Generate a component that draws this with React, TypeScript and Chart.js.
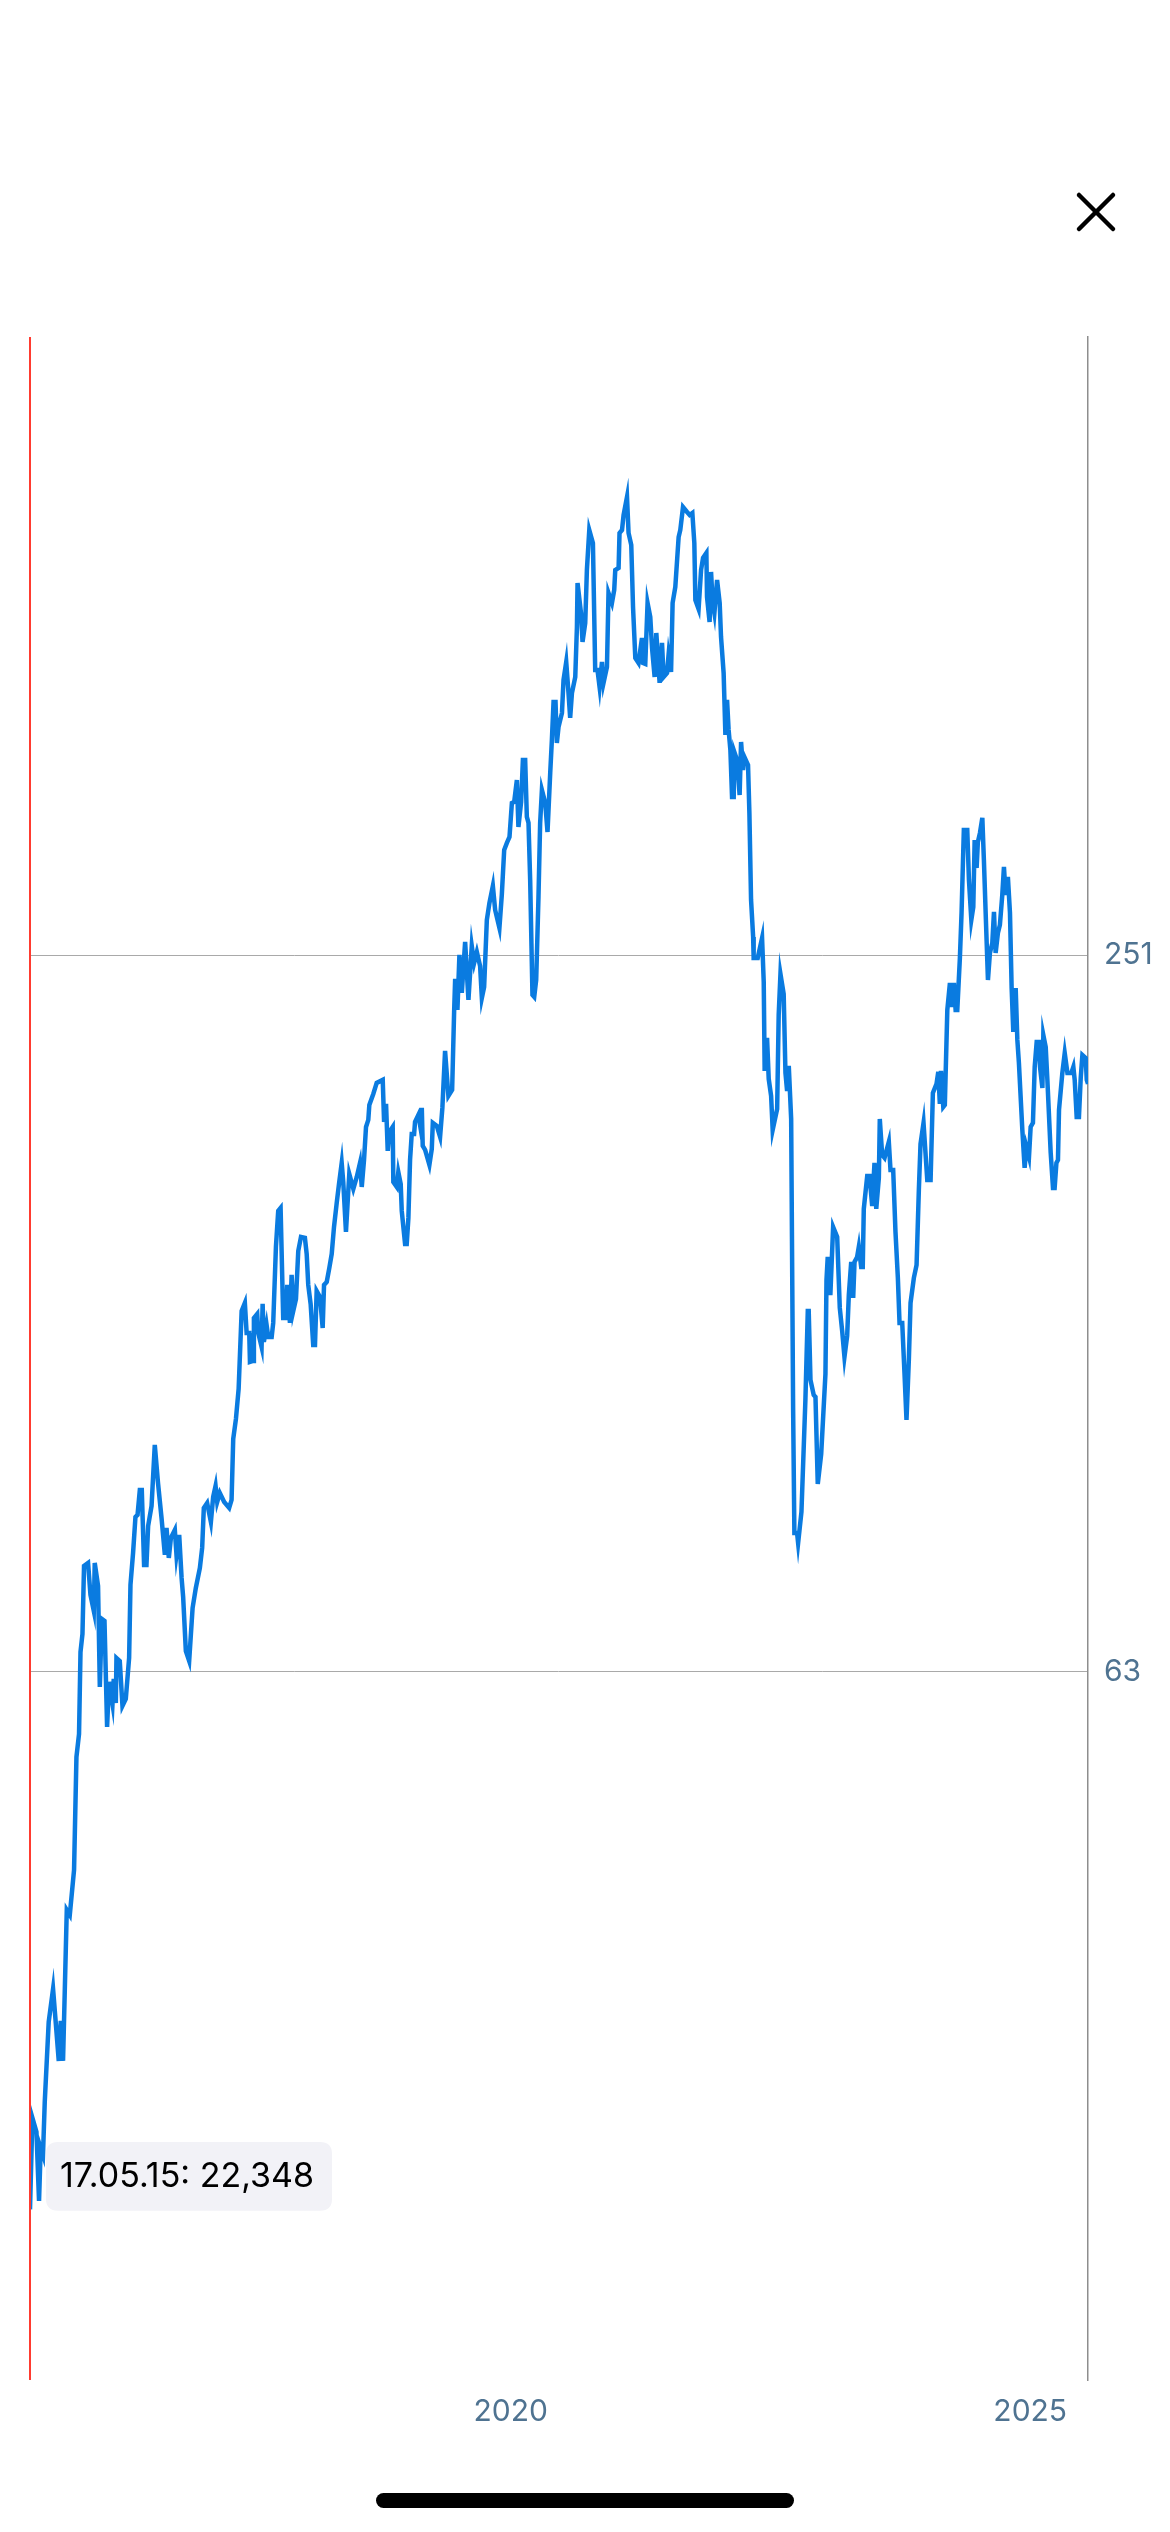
import React, { useEffect, useRef } from 'react';
import { Chart, registerables, Tooltip } from 'chart.js';

Chart.register(...registerables);

// Time axis (decimal years) and price values
const YEARS = [
  2015.373, 2015.396, 2015.435, 2015.460, 2015.476, 2015.498, 2015.515, 2015.553, 2015.595, 2015.650,
  2015.669, 2015.691, 2015.727, 2015.756, 2015.797, 2015.820, 2015.845, 2015.859, 2015.878, 2015.893,
  2015.932, 2015.955, 2015.987, 2015.996, 2016.028, 2016.045, 2016.064, 2016.090, 2016.115, 2016.134,
  2016.167, 2016.179, 2016.199, 2016.205, 2016.237, 2016.263, 2016.295, 2016.327, 2016.340, 2016.365,
  2016.388, 2016.408, 2016.430, 2016.449, 2016.471, 2016.494, 2016.510, 2016.543, 2016.574, 2016.606,
  2016.639, 2016.671, 2016.687, 2016.709, 2016.729, 2016.767, 2016.783, 2016.809, 2016.832, 2016.847,
  2016.873, 2016.905, 2016.938, 2016.969, 2017.008, 2017.030, 2017.046, 2017.078, 2017.114, 2017.136,
  2017.159, 2017.175, 2017.200, 2017.242, 2017.290, 2017.313, 2017.329, 2017.355, 2017.381, 2017.410,
  2017.441, 2017.458, 2017.483, 2017.490, 2017.521, 2017.528, 2017.560, 2017.570, 2017.602, 2017.612,
  2017.624, 2017.650, 2017.666, 2017.699, 2017.714, 2017.740, 2017.762, 2017.785, 2017.810, 2017.836,
  2017.849, 2017.875, 2017.891, 2017.907, 2017.933, 2017.955, 2017.981, 2018.019, 2018.036, 2018.051,
  2018.074, 2018.099, 2018.116, 2018.132, 2018.164, 2018.190, 2018.203, 2018.229, 2018.254, 2018.277,
  2018.299, 2018.325, 2018.347, 2018.373, 2018.388, 2018.414, 2018.446, 2018.485, 2018.518, 2018.549,
  2018.566, 2018.588, 2018.607, 2018.629, 2018.639, 2018.677, 2018.710, 2018.768, 2018.781, 2018.800,
  2018.816, 2018.832, 2018.864, 2018.870, 2018.903, 2018.918, 2018.941, 2018.951, 2018.983, 2018.999,
  2019.015, 2019.031, 2019.047, 2019.070, 2019.079, 2019.111, 2019.127, 2019.144, 2019.153, 2019.176,
  2019.217, 2019.240, 2019.250, 2019.288, 2019.320, 2019.342, 2019.368, 2019.400, 2019.436, 2019.455,
  2019.465, 2019.487, 2019.506, 2019.529, 2019.561, 2019.593, 2019.625, 2019.648, 2019.674, 2019.705,
  2019.722, 2019.744, 2019.770, 2019.795, 2019.828, 2019.850, 2019.891, 2019.914, 2019.937, 2019.963,
  2019.988, 2020.011, 2020.033, 2020.059, 2020.074, 2020.100, 2020.117, 2020.139, 2020.155, 2020.171,
  2020.187, 2020.209, 2020.226, 2020.245, 2020.267, 2020.283, 2020.300, 2020.332, 2020.354, 2020.380,
  2020.396, 2020.412, 2020.431, 2020.444, 2020.460, 2020.493, 2020.508, 2020.534, 2020.556, 2020.572,
  2020.589, 2020.621, 2020.637, 2020.643, 2020.676, 2020.691, 2020.717, 2020.733, 2020.756, 2020.791,
  2020.813, 2020.835, 2020.855, 2020.878, 2020.893, 2020.926, 2020.941, 2020.974, 2020.996, 2021.006,
  2021.038, 2021.047, 2021.071, 2021.086, 2021.119, 2021.134, 2021.160, 2021.177, 2021.199, 2021.230,
  2021.263, 2021.273, 2021.295, 2021.317, 2021.343, 2021.360, 2021.385, 2021.401, 2021.433, 2021.456,
  2021.471, 2021.504, 2021.519, 2021.543, 2021.558, 2021.584, 2021.616, 2021.632, 2021.658, 2021.697,
  2021.722, 2021.748, 2021.767, 2021.777, 2021.808, 2021.832, 2021.851, 2021.883, 2021.889, 2021.914,
  2021.928, 2021.943, 2021.960, 2021.986, 2022.011, 2022.024, 2022.049, 2022.066, 2022.082, 2022.097,
  2022.114, 2022.130, 2022.146, 2022.152, 2022.178, 2022.203, 2022.217, 2022.236, 2022.249, 2022.284,
  2022.297, 2022.313, 2022.333, 2022.338, 2022.377, 2022.419, 2022.435, 2022.444, 2022.467, 2022.483,
  2022.506, 2022.521, 2022.564, 2022.579, 2022.596, 2022.627, 2022.644, 2022.660, 2022.676, 2022.699,
  2022.718, 2022.730, 2022.756, 2022.766, 2022.798, 2022.836, 2022.859, 2022.868, 2022.885, 2022.916,
  2022.933, 2022.955, 2022.988, 2023.029, 2023.039, 2023.051, 2023.061, 2023.077, 2023.103, 2023.142,
  2023.167, 2023.190, 2023.212, 2023.238, 2023.254, 2023.277, 2023.296, 2023.309, 2023.334, 2023.350,
  2023.373, 2023.388, 2023.398, 2023.431, 2023.453, 2023.479, 2023.501, 2023.518, 2023.543, 2023.552,
  2023.575, 2023.598, 2023.639, 2023.655, 2023.681, 2023.703, 2023.726, 2023.742, 2023.768, 2023.790,
  2023.809, 2023.832, 2023.848, 2023.880, 2023.906, 2023.928, 2023.944, 2023.973, 2024.009, 2024.041,
  2024.063, 2024.098, 2024.115, 2024.130, 2024.141, 2024.163, 2024.178, 2024.202, 2024.227, 2024.240,
  2024.265, 2024.282, 2024.298, 2024.323, 2024.339, 2024.361, 2024.394, 2024.410, 2024.433, 2024.452,
  2024.465, 2024.484, 2024.496, 2024.516, 2024.539, 2024.554, 2024.571, 2024.593, 2024.612, 2024.635,
  2024.651, 2024.667, 2024.689, 2024.708, 2024.731, 2024.747, 2024.763, 2024.785, 2024.805, 2024.821,
  2024.837, 2024.860, 2024.876, 2024.891, 2024.924, 2024.946, 2024.963, 2024.988, 2025.004, 2025.026,
  2025.043, 2025.062, 2025.084, 2025.094, 2025.117, 2025.126, 2025.149, 2025.165, 2025.197, 2025.219,
  2025.235, 2025.252, 2025.267, 2025.277, 2025.309, 2025.332, 2025.358, 2025.396, 2025.415, 2025.428,
  2025.447, 2025.469, 2025.486, 2025.502, 2025.534, 2025.544, 2025.556,
];

const VALUES = [
  22.348, 26.66, 25.95, 22.71, 25.16, 24.82, 27.49, 32.08, 34.19, 29.75,
  32.14, 29.75, 39.81, 39.43, 43.0, 53.48, 55.9, 65.48, 67.79, 77.29,
  77.74, 73.09, 70.86, 77.74, 74.36, 61.2, 69.78, 69.51, 56.66, 61.8,
  59.23, 62.15, 59.34, 64.72, 64.35, 59.0, 59.8, 64.72, 74.51, 79.25,
  84.95, 85.28, 89.49, 89.49, 77.44, 77.44, 83.49, 86.77, 97.6, 90.53,
  84.79, 78.95, 83.17, 78.49, 81.58, 82.84, 78.95, 82.05, 75.52, 72.8,
  65.6, 64.35, 71.28, 74.08, 76.99, 80.02, 86.44, 87.27, 84.13, 88.29,
  90.18, 87.44, 88.97, 87.44, 86.44, 87.78, 98.74, 102.62, 108.73, 126.39,
  128.35, 121.14, 121.14, 114.54, 114.77, 124.69, 125.66, 121.14, 117.91, 128.11,
  119.05, 123.02, 120.21, 120.21, 123.5, 142.99, 153.28, 154.17, 124.69, 124.69,
  132.89, 123.5, 135.48, 126.39, 129.35, 141.9, 145.78, 145.5, 141.08, 132.89,
  128.11, 118.37, 118.37, 131.36, 129.85, 122.31, 132.89, 133.66, 137.32, 141.08,
  148.62, 155.66, 161.47, 168.14, 162.09, 147.19, 164.61, 159.92, 163.66, 168.14,
  160.53, 169.12, 180.23, 182.68, 188.04, 192.07, 196.19, 197.33, 181.98, 188.4,
  172.08, 178.5, 180.23, 162.09, 160.53, 165.25, 161.47, 153.28, 143.82, 143.82,
  151.22, 169.12, 177.81, 177.81, 181.98, 184.45, 180.93, 186.96, 173.74, 172.41,
  167.49, 172.74, 181.63, 180.58, 176.79, 186.96, 208.68, 191.33, 193.56, 224.98,
  239.76, 225.85, 251.12, 233.37, 257.49, 230.24, 255.51, 247.27, 252.57, 245.84,
  231.13, 236.08, 268.65, 277.61, 286.85, 273.88, 264.54, 281.92, 307.48, 311.66,
  315.28, 336.65, 337.31, 351.91, 321.42, 337.31, 365.76, 365.76, 327.68, 323.91,
  290.19, 232.47, 231.58, 239.29, 280.83, 323.91, 345.19, 336.65, 318.34, 356.7,
  380.14, 409.05, 409.05, 377.95, 389.79, 400.46, 426.77, 441.84, 416.2, 396.62,
  416.2, 429.24, 472.7, 514.55, 485.64, 459.22, 476.36, 527.62, 569.93, 555.82,
  435.08, 435.08, 421.04, 441.84, 424.3, 437.6, 504.73, 495.09, 507.66, 527.62,
  529.66, 566.64, 569.93, 586.66, 607.38, 566.64, 553.68, 491.29, 445.27, 440.99,
  462.78, 440.99, 440.14, 495.09, 481.9, 453.94, 429.24, 467.26, 424.3, 458.34,
  429.24, 432.57, 447.85, 433.41, 495.09, 510.6, 562.29, 569.93, 595.79, 590.07,
  586.66, 588.93, 555.82, 497.96, 489.4, 527.62, 539.98, 545.2, 500.85, 477.28,
  525.59, 496.05, 485.64, 517.54, 495.09, 463.67, 432.57, 383.82, 410.62, 387.54,
  372.88, 340.56, 340.56, 371.44, 365.76, 341.88, 378.68, 358.77, 367.88, 362.24,
  330.22, 279.21, 259.99, 249.67, 249.67, 259.49, 238.37, 200.78, 213.97, 197.71,
  191.33, 179.19, 186.6, 223.68, 242.08, 232.92, 200.01, 193.18, 202.73, 183.03,
  104.42, 82.37, 82.37, 80.79, 85.77, 106.45, 126.39, 126.39, 110.64, 107.48,
  107.07, 90.53, 95.92, 111.92, 134.18, 140.26, 130.85, 130.85, 148.62, 145.78,
  127.12, 121.6, 115.65, 120.44, 130.35, 138.92, 129.6, 138.92, 140.26, 142.99,
  137.58, 137.58, 153.87, 163.98, 163.98, 154.76, 168.14, 153.87, 163.35, 183.03,
  170.76, 169.77, 175.09, 165.88, 165.88, 147.19, 134.7, 123.5, 123.5, 111.92,
  102.42, 115.21, 128.35, 134.7, 138.11, 159.61, 174.42, 181.63, 162.72, 162.72,
  192.44, 195.81, 200.4, 188.4, 200.78, 187.32, 188.04, 225.85, 237.91, 227.16,
  237.91, 225.85, 225.85, 249.67, 272.3, 319.57, 319.57, 290.19, 268.65, 275.47,
  313.47, 296.98, 312.26, 317.72, 327.05, 301.6, 272.3, 239.29, 252.08, 256.99,
  272.83, 252.08, 262.0, 266.08, 281.92, 297.56, 281.92, 291.87, 272.3, 235.63,
  216.46, 235.63, 213.15, 203.9, 179.19, 166.53, 173.41, 170.1, 180.23, 181.63,
  202.34, 212.33, 212.33, 202.34, 194.3, 215.22, 210.29, 197.33, 171.41, 160.23,
  160.23, 168.14, 169.12, 186.24, 200.01, 207.87, 200.01, 200.01, 202.34, 197.33,
  183.74, 183.74, 198.09, 207.07, 205.88, 197.33, 195.81,
];

const X_TICKS = [2020, 2025];
const Y_TICKS = [63, 251];
const Y_MIN = 16.08;
const Y_MAX = 826.9;
const TOOLTIP_DATE = '17.05.15';
const ACTIVE_INDEX = 0;

const LINE_COLOR = '#0a7be0';
const CROSSHAIR_COLOR = '#ff3b30';
const TICK_COLOR = '#4f7391';
const GRID_COLOR = '#a9a9a9';
const AXIS_COLOR = '#8e8e8e';
const FONT = 'Inter, "Noto Sans", Roboto, sans-serif';

const formatValue = (v: number) => v.toFixed(3).replace('.', ',');

(Tooltip.positioners as any).besideCrosshair = function (items: any[]) {
  if (!items.length) return false;
  const el = items[0].element;
  return { x: el.x, y: el.y - 33 };
};

const crosshairPlugin = {
  id: 'crosshair',
  afterDatasetsDraw(chart: any) {
    const el = chart.getDatasetMeta(0).data[ACTIVE_INDEX];
    if (!el) return;
    const { ctx, chartArea } = chart;
    ctx.save();
    ctx.strokeStyle = CROSSHAIR_COLOR;
    ctx.lineWidth = 2;
    ctx.beginPath();
    ctx.moveTo(el.x, chartArea.top);
    ctx.lineTo(el.x, chartArea.bottom);
    ctx.stroke();
    ctx.restore();
  },
};

function PriceChart() {
  const ref = useRef<HTMLCanvasElement | null>(null);

  useEffect(() => {
    if (!ref.current) return;
    const data = YEARS.map((x, i) => ({ x, y: VALUES[i] }));
    const chart = new Chart(ref.current, {
      type: 'line',
      data: {
        datasets: [
          {
            data,
            borderColor: LINE_COLOR,
            borderWidth: 4.5,
            pointRadius: 0,
            pointHoverRadius: 0,
            tension: 0,
            fill: false,
          },
        ],
      },
      options: {
        responsive: false,
        animation: false,
        devicePixelRatio: 1,
        events: [],
        layout: { padding: { left: 30, top: 337, right: 0, bottom: 0 } },
        plugins: {
          legend: { display: false },
          title: { display: false },
          tooltip: {
            enabled: true,
            animation: false,
            position: 'besideCrosshair' as any,
            xAlign: 'left',
            yAlign: 'center',
            caretSize: 0,
            caretPadding: 16,
            displayColors: false,
            backgroundColor: '#f2f2f7',
            bodyColor: '#000000',
            bodyFont: { family: FONT, size: 34, weight: 'normal' as any },
            padding: { top: 14, bottom: 14, left: 14, right: 18 },
            cornerRadius: 12,
            borderWidth: 0,
            callbacks: {
              title: () => '',
              label: (ctx: any) => `${TOOLTIP_DATE}: ${formatValue(ctx.parsed.y)}`,
            },
          },
        },
        scales: {
          x: {
            type: 'linear',
            min: YEARS[0],
            max: YEARS[YEARS.length - 1],
            bounds: 'data',
            grid: { display: false, drawTicks: false },
            border: { display: false },
            ticks: {
              autoSkip: false,
              maxRotation: 0,
              padding: 14,
              color: TICK_COLOR,
              font: { family: FONT, size: 30 },
              callback: (v: any) => String(v),
            },
            afterBuildTicks: (scale: any) => {
              scale.ticks = X_TICKS.map((value) => ({ value }));
            },
            afterFit: (scale: any) => {
              scale.height = 152;
            },
          },
          y: {
            type: 'logarithmic',
            position: 'right',
            min: Y_MIN,
            max: Y_MAX,
            bounds: 'data',
            grid: { color: GRID_COLOR, lineWidth: 1, drawTicks: false },
            border: { display: true, color: AXIS_COLOR, width: 1.5 },
            ticks: {
              autoSkip: false,
              padding: 16,
              color: TICK_COLOR,
              font: { family: FONT, size: 30 },
              callback: (v: any) => String(v),
            },
            afterBuildTicks: (scale: any) => {
              scale.ticks = Y_TICKS.map((value) => ({ value }));
            },
            afterFit: (scale: any) => {
              scale.width = 82;
            },
          },
        },
      } as any,
      plugins: [crosshairPlugin],
    });

    chart.tooltip?.setActiveElements([{ datasetIndex: 0, index: ACTIVE_INDEX }], { x: 0, y: 0 });
    chart.update();

    return () => chart.destroy();
  }, []);

  return (
    <canvas
      ref={ref}
      width={1170}
      height={2532}
      style={{ position: 'absolute', left: 0, top: 0, width: 1170, height: 2532 }}
    />
  );
}

export default function App() {
  return (
    <div
      style={{
        position: 'absolute',
        left: 0,
        top: 0,
        width: 1170,
        height: 2532,
        background: '#ffffff',
        overflow: 'hidden',
      }}
    >
      <PriceChart />
      <svg
        width={60}
        height={60}
        style={{ position: 'absolute', left: 1066, top: 182 }}
        aria-label="Schließen"
      >
        <line x1={13} y1={13} x2={47} y2={47} stroke="#000" strokeWidth={4.5} strokeLinecap="round" />
        <line x1={47} y1={13} x2={13} y2={47} stroke="#000" strokeWidth={4.5} strokeLinecap="round" />
      </svg>
      <div
        style={{
          position: 'absolute',
          left: 376,
          top: 2493,
          width: 418,
          height: 15,
          borderRadius: 8,
          background: '#000',
        }}
      />
    </div>
  );
}
